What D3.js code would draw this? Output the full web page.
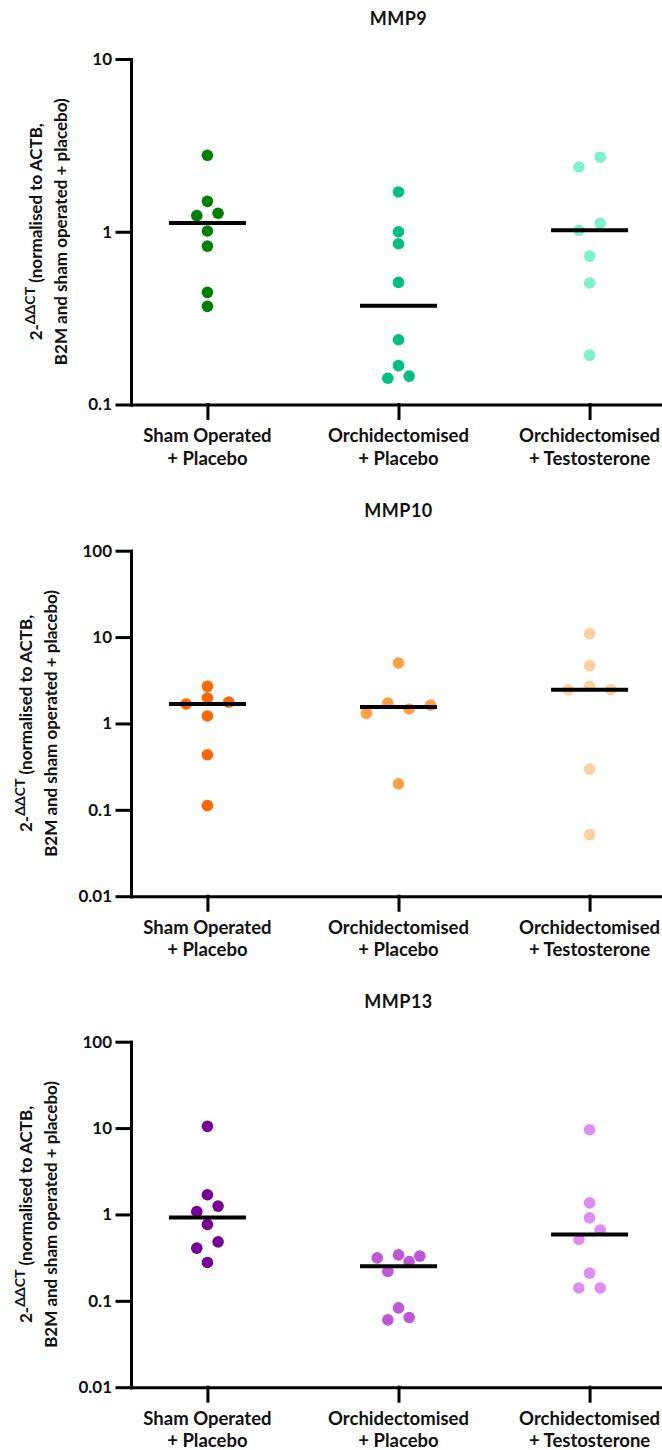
<!DOCTYPE html>
<html>
<head>
<meta charset="utf-8">
<script src="https://cdn.jsdelivr.net/npm/d3@7"></script>
<style>
  body { margin: 0; background: #fff; }
  text { font-family: Lato, "Open Sans", sans-serif; font-weight: 700; fill: #111; }
</style>
</head>
<body>
<div id="chart"></div>
<script>
// groups on the x axis (same for every gene)
const groups = ["sham", "orx", "orxT"];
const groupLabels = [["Sham Operated", "+ Placebo"], ["Orchidectomised", "+ Placebo"], ["Orchidectomised", "+ Testosterone"]];

const genes = ["MMP9", "MMP10", "MMP13"];
const yDomains = [[0.1, 10], [0.01, 100], [0.01, 100]];
const yTicks = [[0.1, 1, 10], [0.01, 0.1, 1, 10, 100], [0.01, 0.1, 1, 10, 100]];
const yTickLabels = [["0.1", "1", "10"], ["0.01", "0.1", "1", "10", "100"], ["0.01", "0.1", "1", "10", "100"]];

// 2^-ddCT values (order inside a row = left to right)
const mmp9Sham = [2.77, 1.50, 1.24, 1.28, 1.01, 0.826, 0.446, 0.370];
const mmp9Orx = [1.70, 1.00, 0.852, 0.509, 0.237, 0.168, 0.142, 0.146];
const mmp9OrxT = [2.37, 2.70, 1.02, 1.12, 0.723, 0.505, 0.193];
const mmp10Sham = [2.69, 1.68, 1.97, 1.77, 1.22, 0.434, 0.112];
const mmp10Orx = [5.01, 1.31, 1.72, 1.47, 1.63, 0.200];
const mmp10OrxT = [10.96, 4.67, 2.46, 2.69, 2.46, 0.296, 0.0516];
const mmp13Sham = [10.47, 1.69, 1.08, 1.25, 0.766, 0.407, 0.482, 0.278];
const mmp13Orx = [0.314, 0.340, 0.329, 0.219, 0.285, 0.0828, 0.0601, 0.0641];
const mmp13OrxT = [9.56, 1.36, 0.913, 0.513, 0.658, 0.209, 0.141, 0.141];

const geneValues = [
  [mmp9Sham, mmp9Orx, mmp9OrxT],
  [mmp10Sham, mmp10Orx, mmp10OrxT],
  [mmp13Sham, mmp13Orx, mmp13OrxT]
];
const geneColors = [
  ["#008000", "#00c080", "#7bf2c8"],
  ["#ff6600", "#ff9f40", "#ffd0a0"],
  ["#780096", "#bf55d8", "#e08cf5"]
];

const W = 662, H = 1450;
const axisLeft = 131, axisRight = 666;
const panelTops = [59, 550.7, 1041.7];
const plotH = 345.5;
const dotR = 5.8, dotStep = 21.3, rowGap = 11, medianHalf = 38.5;

const svg = d3.select("#chart").append("svg")
  .attr("width", W)
  .attr("height", H);

const x = d3.scalePoint()
  .domain(groups)
  .range([axisLeft, axisRight])
  .padding(0.4);

// Prism-like scatter: points that sit at nearly the same height share a row
function swarm(vals, y, cx) {
  const pts = vals.map(function(v, i) { return {v: v, i: i, py: y(v)}; });
  const sorted = pts.slice().sort(function(a, b) { return b.py - a.py || a.i - b.i; });
  const rows = [];
  sorted.forEach(function(p) {
    const row = rows[rows.length - 1];
    if (row && row[0].py - p.py < rowGap) row.push(p);
    else rows.push([p]);
  });
  rows.forEach(function(row) {
    row.sort(function(a, b) { return a.i - b.i; });
    row.forEach(function(p, k) { p.px = cx + (k - (row.length - 1) / 2) * dotStep; });
  });
  return pts;
}

genes.forEach(function(gene, gi) {
  const top = panelTops[gi], bottom = top + plotH;
  const y = d3.scaleLog().domain(yDomains[gi]).range([bottom, top]);
  const g = svg.append("g");

  // title
  g.append("text")
    .attr("x", x(groups[1]))
    .attr("y", top - 34)
    .attr("text-anchor", "middle")
    .style("font-size", "18px")
    .style("letter-spacing", "0.5px")
    .text(gene);

  // y axis
  const yAxis = g.append("g")
    .attr("transform", "translate(" + axisLeft + ",0)")
    .call(d3.axisLeft(y)
      .tickValues(yTicks[gi])
      .tickFormat(function(d, i) { return yTickLabels[gi][i]; })
      .tickSize(14)
      .tickSizeOuter(0)
      .tickPadding(5));
  yAxis.selectAll("text").style("font-size", "17px").attr("fill", "#111");

  // x axis
  const xAxis = g.append("g")
    .attr("transform", "translate(0," + bottom + ")")
    .call(d3.axisBottom(x).tickSize(14).tickSizeOuter(0).tickFormat(""));
  xAxis.selectAll("text").remove();

  g.selectAll(".domain, .tick line")
    .attr("stroke", "#000")
    .attr("stroke-width", 3)
    .attr("stroke-linecap", "square");

  // two-line category labels
  groups.forEach(function(grp, k) {
    const t = g.append("text")
      .attr("text-anchor", "middle")
      .style("font-size", "18.5px");
    groupLabels[k].forEach(function(line, li) {
      t.append("tspan")
        .attr("x", x(grp))
        .attr("y", bottom + 37.4 + li * 22.7)
        .text(line);
    });
  });

  // y axis title, placed left of the widest tick label
  const tickBox = yAxis.node().getBBox();
  const base2 = axisLeft + tickBox.x - 21;
  const base1 = base2 - 25;
  const midY = (top + bottom) / 2;

  const l1 = g.append("text")
    .attr("transform", "translate(" + base1 + "," + midY + ") rotate(-90)")
    .attr("text-anchor", "middle")
    .style("font-size", "17px");
  l1.append("tspan").text("2-");
  l1.append("tspan").attr("dy", -7).style("font-size", "14px").text("ΔΔCT");
  l1.append("tspan").attr("dy", 7).text(" (normalised to ACTB,");

  g.append("text")
    .attr("transform", "translate(" + base2 + "," + midY + ") rotate(-90)")
    .attr("text-anchor", "middle")
    .style("font-size", "17px")
    .text("B2M and sham operated + placebo)");

  // dots
  groups.forEach(function(grp, k) {
    const vals = geneValues[gi][k];
    const pts = swarm(vals, y, x(grp));
    g.append("g")
      .selectAll("circle")
      .data(pts)
      .enter().append("circle")
        .attr("cx", function(d) { return d.px; })
        .attr("cy", function(d) { return d.py; })
        .attr("r", dotR)
        .attr("fill", geneColors[gi][k]);

    // median bar
    const med = d3.median(vals);
    g.append("line")
      .attr("x1", x(grp) - medianHalf)
      .attr("x2", x(grp) + medianHalf)
      .attr("y1", y(med))
      .attr("y2", y(med))
      .attr("stroke", "#000")
      .attr("stroke-width", 4);
  });
});
</script>
</body>
</html>
